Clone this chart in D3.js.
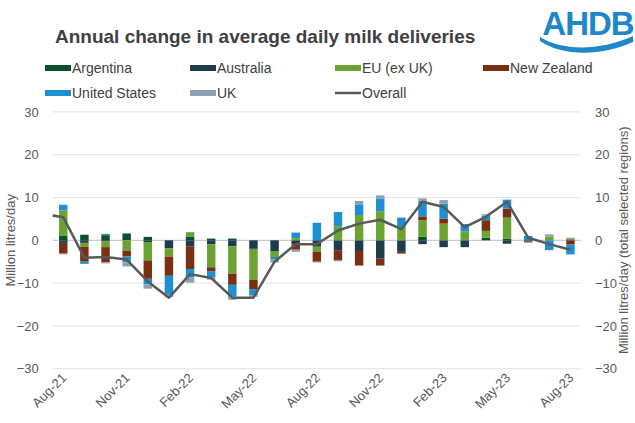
<!DOCTYPE html>
<html>
<head>
<meta charset="utf-8">
<script src="https://cdn.jsdelivr.net/npm/d3@7"></script>
<style>
  html, body { margin: 0; padding: 0; background: #fff; }
  svg { display: block; font-family: "Liberation Sans", Arial, sans-serif; }
</style>
</head>
<body>
<svg id="chart" width="635" height="423"></svg>
<script>
// Months shown on the category axis
const months = ["Aug-21","Sep-21","Oct-21","Nov-21","Dec-21","Jan-22","Feb-22","Mar-22","Apr-22","May-22","Jun-22","Jul-22",
                "Aug-22","Sep-22","Oct-22","Nov-22","Dec-22","Jan-23","Feb-23","Mar-23","Apr-23","May-23","Jun-23","Jul-23","Aug-23"];
const tickMonths = ["Aug-21","Nov-21","Feb-22","May-22","Aug-22","Nov-22","Feb-23","May-23","Aug-23"];
const yTicks = [-30, -20, -10, 0, 10, 20, 30];

// Annual change by region, million litres/day
const argentina = [1.0, 1.3, 1.2, 1.6, 0.8, 0, 0.9, 0.4, 0.4, 0, 0, 0, 0, 0, 0, 0, 0, 0.8, 0, 0, 0.6, 0.4, 0, 0, 0];
const australia = [-0.6, -0.6, -0.3, 0, -0.4, -1.9, -1.5, -0.9, -1.4, -2.0, -2.5, -1.0, -1.5, -2.3, -2.5, -4.3, -2.7, -0.9, -1.6, -1.6, 0, -0.8, -0.3, 0, 0];
const euExUK    = [6.0, -0.9, -1.3, -2.4, -4.3, -1.9, 1.0, -5.4, -6.4, -7.2, -1.4, 0.5, -1.2, 3.3, 5.9, 6.8, 3.1, 3.9, 3.9, 2.1, 1.6, 4.9, 0, 0.9, 0.3];
const newZealand= [-2.5, -3.5, -3.5, -1.4, -4.3, -4.5, -5.2, -0.9, -2.6, -2.2, 0, -1.2, -2.3, -2.3, -3.4, -1.6, -0.4, 0.9, 1.2, 0, 2.5, 2.1, -0.2, 0, -1.0];
const unitedStates = [1.3, -0.5, 0.3, -1.3, -1.3, -4.4, -1.9, -1.4, -2.6, -1.5, -0.5, 1.3, 4.1, 3.3, 2.5, 3.0, 2.2, 3.6, 3.5, 1.7, 1.1, 2.1, 1.0, -2.3, -2.3];
const uk        = [-0.2, 0, -0.3, -1.0, -1.0, -0.6, -1.3, -0.6, -0.9, -0.3, -0.8, -0.5, -0.2, -0.3, 0.8, 0.7, 0, 0.6, 0.8, 0, 0.3, 0, 0, 0.5, 0.3];

// Overall line (total of selected regions); it begins one month earlier, at Jul-21
const overallMonths = ["Jul-21"].concat(months);
const overall = [6.2, 5.4, -4.1, -3.9, -4.5, -9.6, -13.4, -7.9, -8.8, -13.4, -13.4, -5.0, -0.9, -0.9, 2.3, 3.9, 4.8, 2.6,
                 9.0, 7.8, 3.1, 5.5, 9.0, 0.6, -0.9, -2.2];

const seriesNames  = ["Argentina", "Australia", "EU (ex UK)", "New Zealand", "United States", "UK"];
const seriesValues = [argentina, australia, euExUK, newZealand, unitedStates, uk];
const seriesColors = ["#0d4f2c", "#1d3d4d", "#6aa332", "#7b2f12", "#1c90d3", "#8aa1b1"];

const rows = months.map((m, i) => {
  const r = { month: m };
  seriesNames.forEach((s, k) => r[s] = seriesValues[k][i]);
  return r;
});

const svg = d3.select("#chart");
const plotL = 52.7, plotR = 581, plotT = 111.9, plotB = 368.7;

const x = d3.scaleBand().domain(months).range([plotL, plotR]).paddingInner(0.6).paddingOuter(0.3);
const y = d3.scaleLinear().domain([-30, 30]).range([plotB, plotT]);

// Title
svg.append("text").attr("x", 55).attr("y", 43)
  .attr("font-size", 19).attr("font-weight", "bold").attr("fill", "#404040")
  .text("Annual change in average daily milk deliveries");

// Logo
const logo = svg.append("g");
logo.append("text").attr("x", 588).attr("y", 35).attr("text-anchor", "middle")
  .attr("font-family", "'Liberation Sans Narrow', 'Liberation Sans', Arial, sans-serif")
  .attr("font-size", 33).attr("font-weight", "bold").attr("fill", "#1d87c9").attr("letter-spacing", -1)
  .text("AHDB");
logo.append("path")
  .attr("d", "M540,37 C560,50 598,52 633,36 L633,42 C600,57 562,56 540,41 Z")
  .attr("fill", "#1d87c9");

// Gridlines
svg.append("g").selectAll("line").data(yTicks).join("line")
  .attr("x1", plotL).attr("x2", plotR)
  .attr("y1", d => y(d)).attr("y2", d => y(d))
  .attr("stroke", d => d === 0 ? "#bfbfbf" : "#e3e3e3").attr("stroke-width", 1);

// Left and right value axes
const axisL = svg.append("g").attr("transform", `translate(${plotL - 8},0)`)
  .call(d3.axisLeft(y).tickValues(yTicks).tickSize(0).tickPadding(6));
const axisR = svg.append("g").attr("transform", `translate(${plotR + 8},0)`)
  .call(d3.axisRight(y).tickValues(yTicks).tickSize(0).tickPadding(6));
[axisL, axisR].forEach(a => {
  a.select(".domain").remove();
  a.selectAll("text").attr("font-size", 13).attr("fill", "#595959")
    .attr("font-family", "'Liberation Sans', Arial, sans-serif");
});

svg.append("text").attr("transform", `translate(15,${(plotT + plotB) / 2}) rotate(-90)`)
  .attr("text-anchor", "middle").attr("font-size", 13).attr("fill", "#595959")
  .text("Million litres/day");
svg.append("text").attr("transform", `translate(628,${(plotT + plotB) / 2}) rotate(-90)`)
  .attr("text-anchor", "middle").attr("font-size", 13).attr("fill", "#595959")
  .text("Million litres/day (total selected regions)");

// Stacked bars, positives above and negatives below zero
const stack = d3.stack().keys(seriesNames).offset(d3.stackOffsetDiverging);
const layers = stack(rows);
svg.append("g").selectAll("g").data(layers).join("g")
  .attr("fill", (d, i) => seriesColors[i])
  .selectAll("rect").data(d => d).join("rect")
  .attr("x", d => x(d.data.month))
  .attr("width", x.bandwidth())
  .attr("y", d => y(Math.max(d[0], d[1])))
  .attr("height", d => Math.abs(y(d[0]) - y(d[1])));

// Category axis labels
const xLab = svg.append("g");
xLab.selectAll("text").data(tickMonths).join("text")
  .attr("transform", d => `translate(${x(d) + x.bandwidth() / 2 + 4},${plotB + 10}) rotate(-45)`)
  .attr("text-anchor", "end").attr("font-size", 13).attr("fill", "#595959")
  .text(d => d);

// Overall line, clipped to the plot area
svg.append("clipPath").attr("id", "plotClip").append("rect")
  .attr("x", plotL).attr("y", plotT - 20).attr("width", plotR - plotL).attr("height", plotB - plotT + 40);
const step = x.step();
const lineX = (m, i) => i === 0 ? x(months[0]) + x.bandwidth() / 2 - step : x(m) + x.bandwidth() / 2;
const line = d3.line()
  .x((d, i) => lineX(overallMonths[i], i))
  .y(d => y(d));
svg.append("path").datum(overall)
  .attr("clip-path", "url(#plotClip)")
  .attr("d", line).attr("fill", "none")
  .attr("stroke", "#595959").attr("stroke-width", 2.5).attr("stroke-linejoin", "round");

// Legend
const legendItems = [
  { name: "Argentina", color: seriesColors[0], x: 45, y: 68 },
  { name: "Australia", color: seriesColors[1], x: 190, y: 68 },
  { name: "EU (ex UK)", color: seriesColors[2], x: 335, y: 68 },
  { name: "New Zealand", color: seriesColors[3], x: 483, y: 68 },
  { name: "United States", color: seriesColors[4], x: 45, y: 93 },
  { name: "UK", color: seriesColors[5], x: 190, y: 93 },
  { name: "Overall", color: "#595959", x: 335, y: 93, line: true }
];
const lg = svg.append("g").selectAll("g").data(legendItems).join("g")
  .attr("transform", d => `translate(${d.x},${d.y})`);
lg.filter(d => !d.line).append("rect").attr("x", 0).attr("y", -3).attr("width", 26).attr("height", 6)
  .attr("fill", d => d.color);
lg.filter(d => d.line).append("line").attr("x1", 0).attr("x2", 26).attr("y1", 0).attr("y2", 0)
  .attr("stroke", d => d.color).attr("stroke-width", 2.5);
lg.append("text").attr("x", 27).attr("y", 5).attr("font-size", 14).attr("fill", "#404040")
  .text(d => d.name);
</script>
</body>
</html>
